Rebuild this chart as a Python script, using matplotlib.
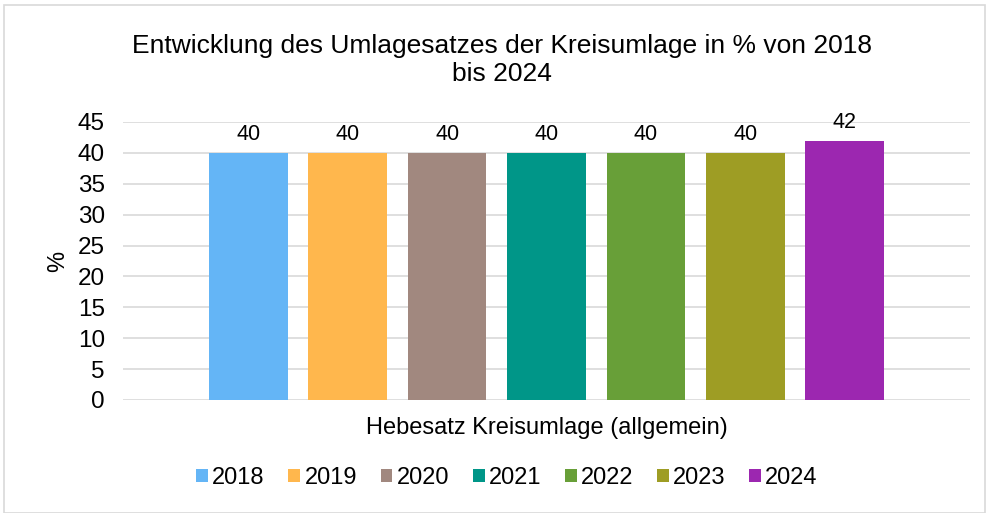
import matplotlib.pyplot as plt
from matplotlib.patches import Rectangle

plt.rcParams['font.family'] = ['Liberation Sans', 'DejaVu Sans']

# data
years = ["2018", "2019", "2020", "2021", "2022", "2023", "2024"]
values = [40, 40, 40, 40, 40, 40, 42]
colors = ["#64B5F6", "#FFB74D", "#A1887F", "#009688", "#689F38", "#9E9D24", "#9C27B0"]
yticks = [0, 5, 10, 15, 20, 25, 30, 35, 40, 45]

fig = plt.figure(figsize=(9.89, 5.13), dpi=100)
ax = fig.add_axes([123 / 989, 1 - 400 / 513, 847 / 989, 278 / 513])

for i, (yr, v, c) in enumerate(zip(years, values, colors)):
    ax.bar(i, v, width=0.79, color=c, label=yr, zorder=3)
    ax.text(i, v + 1.3, str(v), ha="center", va="bottom", fontsize=15.5)

ax.set_xlim(-1.26, 7.26)
ax.set_ylim(0, 45)
ax.set_yticks(yticks)
ax.set_xticks([])
ax.tick_params(axis="y", length=0, labelsize=17.5, pad=13)
ax.grid(axis="y", color="#d9d9d9", linewidth=1.2, zorder=0)
for s in ax.spines.values():
    s.set_visible(False)

ax.set_ylabel("%", fontsize=17, labelpad=6)
ax.set_xlabel("Hebesatz Kreisumlage (allgemein)", fontsize=17, labelpad=12)

fig.text(502 / 989, 1 - 60 / 513,
         "Entwicklung des Umlagesatzes der Kreisumlage in % von 2018\nbis 2024",
         ha="center", va="center", fontsize=19, linespacing=1.2)

fig.legend(loc="center", bbox_to_anchor=(507 / 989, 1 - 478 / 513), ncol=7,
           frameon=False, fontsize=17, handlelength=0.5, handleheight=0.5,
           handletextpad=0.18, columnspacing=1.0)

fig.patches.append(Rectangle((4 / 989, 0), 981 / 989, 1 - 5 / 513,
                             transform=fig.transFigure, fill=False,
                             edgecolor="#d9d9d9", linewidth=1.2))

fig.savefig("out.png", dpi=100)
